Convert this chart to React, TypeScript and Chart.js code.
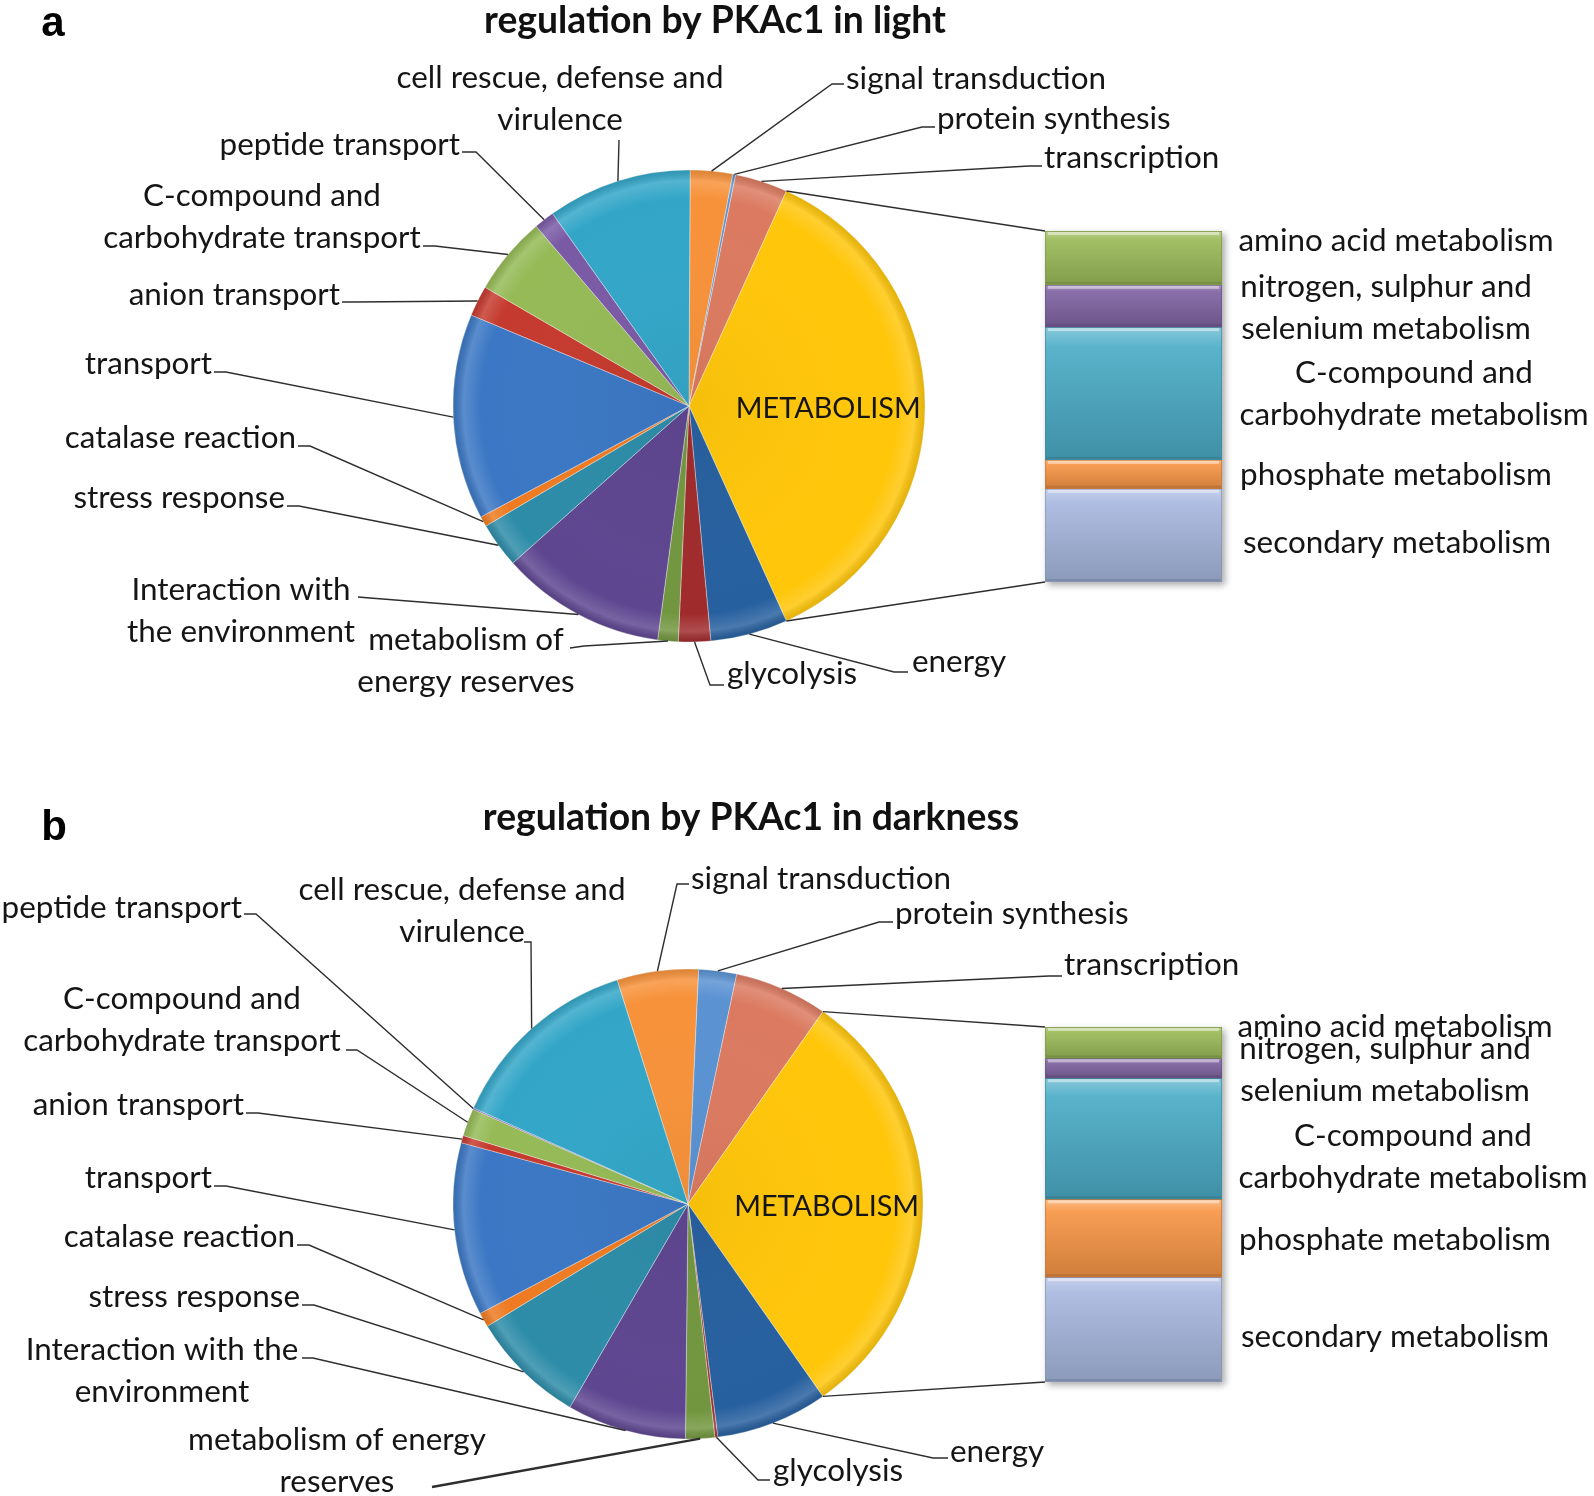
import React, { useEffect, useRef } from "react";
import { Chart, registerables } from "chart.js";

Chart.register(...registerables);

const PAGE_W = 1594;
const PAGE_H = 1496;

// ---------------- data ----------------
const pieCategories = [
  "signal transduction",
  "protein synthesis",
  "transcription",
  "METABOLISM",
  "energy",
  "glycolysis",
  "metabolism of energy reserves",
  "Interaction with the environment",
  "stress response",
  "catalase reaction",
  "transport",
  "anion transport",
  "C-compound and carbohydrate transport",
  "peptide transport",
  "cell rescue, defense and virulence",
];
// share of regulated genes (%), light
const lightPieValues = [2.9, 0.2, 3.6, 36.5, 5.3, 2.2, 1.4, 11.3, 3.1, 0.7, 14.1, 2.1, 5.4, 1.4, 9.9];
// share of regulated genes (%), darkness
const darkPieValues = [5.6, 2.6, 6.4, 30.5, 7.7, 0.2, 2.0, 8.2, 7.9, 1.0, 11.9, 0.5, 1.9, 0.1, 13.4];

const barCategories = [
  "amino acid metabolism",
  "nitrogen, sulphur and selenium metabolism",
  "C-compound and carbohydrate metabolism",
  "phosphate metabolism",
  "secondary metabolism",
];
// breakdown of the METABOLISM slice (%)
const lightBarValues = [5.6, 4.4, 13.8, 3.0, 9.7];
const darkBarValues = [2.7, 1.7, 10.4, 6.7, 9.0];

const panelTitles = ["regulation by PKAc1 in light", "regulation by PKAc1 in darkness"];
const panelLetters = ["a", "b"];

// ---------------- styles ----------------
const pieColors = [
  "#F7923A", "#5A92D2", "#DB7A60", "#FFC60A", "#27609F", "#A02B2C", "#72963F", "#5E4690",
  "#2D8CA8", "#EE7B22", "#3B77C4", "#C53A2E", "#95BA56", "#7A5AA5", "#33A6C8",
];
const barColors = ["#9BBB59", "#8064A2", "#4BACC6", "#F79646", "#A7B7DE"];

const FONT = "Lato, 'Open Sans', sans-serif";
const LINE_GAP = 41.5;
const TEXT_COLOR = "#151515";
const LEADER_COLOR = "#2e2e2e";

type PieLabel = {
  i: number;
  lines: string[];
  x: number;
  y: number;
  align: CanvasTextAlign;
  path: number[][];
  lw?: number;
};
type BarLabel = { lines: string[]; x: number; y: number };

const lightLayout = {
  letter: [53, 24],
  title: [715, 21],
  pie: [689, 406, 236],
  bar: [1045, 231, 1222, 582],
  pieLabels: [
    { i: 0, lines: ["signal transduction"], x: 846, y: 79, align: "left", path: [[844, 84], [832, 84]] },
    { i: 1, lines: ["protein synthesis"], x: 937, y: 119, align: "left", path: [[935, 127], [922, 127]] },
    { i: 2, lines: ["transcription"], x: 1044, y: 158, align: "left", path: [[1042, 166], [1029, 166]] },
    { i: 14, lines: ["cell rescue, defense and", "virulence"], x: 560, y: 78, align: "center", path: [[619, 140]] },
    { i: 13, lines: ["peptide transport"], x: 460, y: 145, align: "right", path: [[462, 152], [476, 152]] },
    { i: 12, lines: ["C-compound and", "carbohydrate transport"], x: 262, y: 196, align: "center", path: [[423, 246], [435, 246]] },
    { i: 11, lines: ["anion transport"], x: 340, y: 295, align: "right", path: [[342, 302], [354, 302]] },
    { i: 10, lines: ["transport"], x: 212, y: 364, align: "right", path: [[214, 372], [226, 372]] },
    { i: 9, lines: ["catalase reaction"], x: 296, y: 438, align: "right", path: [[298, 446], [310, 446]] },
    { i: 8, lines: ["stress response"], x: 285, y: 498, align: "right", path: [[287, 506], [299, 506]] },
    { i: 7, lines: ["Interaction with", "the environment"], x: 241, y: 590, align: "center", path: [[358, 597], [370, 598]] },
    { i: 6, lines: ["metabolism of", "energy reserves"], x: 466, y: 640, align: "center", path: [[570, 648], [584, 646]] },
    { i: 5, lines: ["glycolysis"], x: 727, y: 674, align: "left", path: [[724, 685], [710, 685]] },
    { i: 4, lines: ["energy"], x: 912, y: 662, align: "left", path: [[908, 672], [894, 672]] },
  ] as PieLabel[],
  barLabels: [
    { lines: ["amino acid metabolism"], x: 1396, y: 241 },
    { lines: ["nitrogen, sulphur and", "selenium metabolism"], x: 1386, y: 287 },
    { lines: ["C-compound and", "carbohydrate metabolism"], x: 1414, y: 373 },
    { lines: ["phosphate metabolism"], x: 1396, y: 475 },
    { lines: ["secondary metabolism"], x: 1397, y: 543 },
  ] as BarLabel[],
};

const darkLayout = {
  letter: [54, 828],
  title: [751, 818],
  pie: [688, 1204, 235],
  bar: [1045, 1027, 1222, 1382],
  pieLabels: [
    { i: 0, lines: ["signal transduction"], x: 691, y: 879, align: "left", path: [[689, 884], [677, 884]] },
    { i: 1, lines: ["protein synthesis"], x: 895, y: 914, align: "left", path: [[893, 922], [879, 922]] },
    { i: 2, lines: ["transcription"], x: 1064, y: 965, align: "left", path: [[1062, 976], [1049, 976]] },
    { i: 14, lines: ["cell rescue, defense and", "virulence"], x: 462, y: 890, align: "center", path: [[524, 942], [531, 942]] },
    { i: 13, lines: ["peptide transport"], x: 242, y: 908, align: "right", path: [[244, 914], [256, 914]] },
    { i: 12, lines: ["C-compound and", "carbohydrate transport"], x: 182, y: 999, align: "center", path: [[346, 1050], [357, 1050]] },
    { i: 11, lines: ["anion transport"], x: 244, y: 1105, align: "right", path: [[246, 1113], [258, 1113]] },
    { i: 10, lines: ["transport"], x: 212, y: 1178, align: "right", path: [[214, 1186], [226, 1186]] },
    { i: 9, lines: ["catalase reaction"], x: 295, y: 1237, align: "right", path: [[297, 1245], [309, 1245]] },
    { i: 8, lines: ["stress response"], x: 300, y: 1297, align: "right", path: [[302, 1305], [314, 1305]] },
    { i: 7, lines: ["Interaction with the", "environment"], x: 162, y: 1350, align: "center", path: [[302, 1358], [313, 1358]] },
    { i: 6, lines: ["metabolism of energy", "reserves"], x: 337, y: 1440, align: "center", path: [[432, 1487]], lw: 2.4 },
    { i: 5, lines: ["glycolysis"], x: 773, y: 1471, align: "left", path: [[770, 1480], [758, 1480]] },
    { i: 4, lines: ["energy"], x: 950, y: 1452, align: "left", path: [[948, 1458], [933, 1458]] },
  ] as PieLabel[],
  barLabels: [
    { lines: ["amino acid metabolism"], x: 1395, y: 1027 },
    { lines: ["nitrogen, sulphur and", "selenium metabolism"], x: 1385, y: 1049 },
    { lines: ["C-compound and", "carbohydrate metabolism"], x: 1413, y: 1136 },
    { lines: ["phosphate metabolism"], x: 1395, y: 1240 },
    { lines: ["secondary metabolism"], x: 1395, y: 1337 },
  ] as BarLabel[],
};

// ---------------- helpers ----------------
function shade(hex: string, amt: number): string {
  const n = parseInt(hex.slice(1), 16);
  let r = (n >> 16) & 255, g = (n >> 8) & 255, b = n & 255;
  if (amt >= 0) {
    r = r + (255 - r) * amt; g = g + (255 - g) * amt; b = b + (255 - b) * amt;
  } else {
    r = r * (1 + amt); g = g * (1 + amt); b = b * (1 + amt);
  }
  return `rgb(${Math.round(r)},${Math.round(g)},${Math.round(b)})`;
}

function fitSize(ctx: CanvasRenderingContext2D, text: string, width: number, weight: string): number {
  ctx.save();
  ctx.font = `${weight} 100px ${FONT}`;
  const w = ctx.measureText(text).width;
  ctx.restore();
  return (100 * width) / w;
}

function labelSize(ctx: CanvasRenderingContext2D) {
  return fitSize(ctx, "cell rescue, defense and", 327, "normal");
}

function drawLines(ctx: CanvasRenderingContext2D, lines: string[], x: number, y: number, align: CanvasTextAlign, font: string) {
  ctx.font = font;
  ctx.textAlign = align;
  ctx.textBaseline = "middle";
  ctx.fillStyle = TEXT_COLOR;
  lines.forEach((ln, j) => ctx.fillText(ln, x, y + j * LINE_GAP));
}

function arcGeom(el: any) {
  return el.getProps(["x", "y", "startAngle", "endAngle", "outerRadius"], true);
}

function makePie(canvas: HTMLCanvasElement, values: number[], layout: any, k: number) {
  const [cx, cy, r] = layout.pie;
  const total = values.reduce((a, b) => a + b, 0);
  const before = values.slice(0, 3).reduce((a, b) => a + b, 0);
  // Excel pie-of-bar: the split slice is centred on 3 o'clock
  const rotation = 90 - ((before + values[3] / 2) / total) * 360;

  const decor = {
    id: "pieDecor" + k,
    afterDatasetsDraw(chart: any) {
      const ctx = chart.ctx as CanvasRenderingContext2D;
      const arcs = chart.getDatasetMeta(0).data;
      const g0 = arcGeom(arcs[0]);
      const R = g0.outerRadius;
      ctx.save();
      const g = ctx.createRadialGradient(g0.x, g0.y, 0, g0.x, g0.y, R);
      g.addColorStop(0, "rgba(0,0,0,0.04)");
      g.addColorStop(0.88, "rgba(255,255,255,0)");
      g.addColorStop(0.955, "rgba(255,255,255,0.16)");
      g.addColorStop(1, "rgba(0,0,0,0.10)");
      ctx.beginPath();
      ctx.arc(g0.x, g0.y, R, 0, Math.PI * 2);
      ctx.fillStyle = g;
      ctx.fill();
      ctx.restore();
    },
    afterDraw(chart: any) {
      const ctx = chart.ctx as CanvasRenderingContext2D;
      const arcs = chart.getDatasetMeta(0).data;
      ctx.save();
      // panel letter
      ctx.font = `bold 42px 'Liberation Sans', Arial, sans-serif`;
      ctx.textAlign = "center";
      ctx.textBaseline = "middle";
      ctx.fillStyle = "#000";
      ctx.fillText(panelLetters[k], layout.letter[0], layout.letter[1]);
      // title
      const ts = fitSize(ctx, panelTitles[0], 462, "bold");
      ctx.font = `bold ${ts}px ${FONT}`;
      ctx.fillStyle = "#111";
      ctx.fillText(panelTitles[k], layout.title[0], layout.title[1]);

      const ls = labelSize(ctx);
      const font = `${ls}px ${FONT}`;
      // leader lines + labels
      layout.pieLabels.forEach((lab: PieLabel) => {
        const a = arcGeom(arcs[lab.i]);
        const mid = (a.startAngle + a.endAngle) / 2;
        const rx = a.x + Math.cos(mid) * a.outerRadius;
        const ry = a.y + Math.sin(mid) * a.outerRadius;
        ctx.beginPath();
        ctx.moveTo(lab.path[0][0], lab.path[0][1]);
        for (let j = 1; j < lab.path.length; j++) ctx.lineTo(lab.path[j][0], lab.path[j][1]);
        ctx.lineTo(rx, ry);
        ctx.strokeStyle = LEADER_COLOR;
        ctx.lineWidth = lab.lw || 1.4;
        ctx.stroke();
        drawLines(ctx, lab.lines, lab.x, lab.y, lab.align, font);
      });
      // METABOLISM label inside its slice
      const m = arcGeom(arcs[3]);
      const mm = (m.startAngle + m.endAngle) / 2;
      const ms = fitSize(ctx, "METABOLISM", 185, "normal");
      drawLines(ctx, [pieCategories[3]], m.x + Math.cos(mm) * m.outerRadius * 0.59, m.y + Math.sin(mm) * m.outerRadius * 0.59 + 3, "center", `${ms}px ${FONT}`);
      ctx.restore();
    },
  };

  return new Chart(canvas, {
    type: "pie",
    data: {
      labels: pieCategories,
      datasets: [
        {
          data: values,
          backgroundColor: pieColors,
          borderColor: "rgba(255,255,255,0.35)",
          borderWidth: 1,
        },
      ],
    },
    options: {
      responsive: false,
      animation: false,
      events: [],
      rotation,
      radius: r,
      layout: { padding: { left: cx - r, right: PAGE_W - (cx + r), top: cy - r, bottom: PAGE_H - (cy + r) } },
      plugins: { legend: { display: false }, tooltip: { enabled: false }, title: { display: false } },
    } as any,
    plugins: [decor as any],
  });
}

function makeBar(canvas: HTMLCanvasElement, values: number[], layout: any, k: number, pie: Chart) {
  const [left, top, right, bottom] = layout.bar;
  const total = values.reduce((a, b) => a + b, 0);

  const decor = {
    id: "barDecor" + k,
    beforeDatasetsDraw(chart: any) {
      const ctx = chart.ctx as CanvasRenderingContext2D;
      const a = chart.chartArea;
      ctx.save();
      ctx.shadowColor = "rgba(0,0,0,0.35)";
      ctx.shadowBlur = 7;
      ctx.shadowOffsetX = 3;
      ctx.shadowOffsetY = 3;
      ctx.fillStyle = "#bbb";
      ctx.fillRect(a.left, a.top, a.right - a.left, a.bottom - a.top);
      ctx.restore();
    },
    afterDatasetsDraw(chart: any) {
      const ctx = chart.ctx as CanvasRenderingContext2D;
      ctx.save();
      chart.data.datasets.forEach((_d: any, di: number) => {
        const el = chart.getDatasetMeta(di).data[0];
        const p = el.getProps(["x", "y", "base", "width"], true);
        const t = Math.min(p.y, p.base), b = Math.max(p.y, p.base);
        const l = p.x - p.width / 2;
        ctx.fillStyle = "rgba(255,255,255,0.45)";
        ctx.fillRect(l + 3, t + 1, p.width - 6, 3);
        ctx.fillStyle = "rgba(0,0,0,0.10)";
        ctx.fillRect(l + 1, b - 3, p.width - 2, 2);
      });
      ctx.restore();
    },
    afterDraw(chart: any) {
      const ctx = chart.ctx as CanvasRenderingContext2D;
      ctx.save();
      // connectors from the split slice to the bar
      const m = arcGeom(pie.getDatasetMeta(0).data[3]);
      const ys = chart.scales.y;
      const el0 = chart.getDatasetMeta(0).data[0].getProps(["x", "width"], true);
      const bx = el0.x - el0.width / 2;
      const yTop = ys.getPixelForValue(0);
      const yBot = ys.getPixelForValue(total);
      ctx.strokeStyle = LEADER_COLOR;
      ctx.lineWidth = 1.4;
      ctx.beginPath();
      ctx.moveTo(m.x + Math.cos(m.startAngle) * m.outerRadius, m.y + Math.sin(m.startAngle) * m.outerRadius);
      ctx.lineTo(bx, yTop);
      ctx.moveTo(m.x + Math.cos(m.endAngle) * m.outerRadius, m.y + Math.sin(m.endAngle) * m.outerRadius);
      ctx.lineTo(bx, yBot);
      ctx.stroke();
      // labels
      const font = `${labelSize(ctx)}px ${FONT}`;
      layout.barLabels.forEach((lab: BarLabel) => drawLines(ctx, lab.lines, lab.x, lab.y, "center", font));
      ctx.restore();
    },
  };

  return new Chart(canvas, {
    type: "bar",
    data: {
      labels: ["METABOLISM"],
      datasets: barCategories.map((c, i) => ({
        label: c,
        data: [values[i]],
        backgroundColor: (context: any) => {
          const chart = context.chart;
          const ys = chart.scales && chart.scales.y;
          const base = barColors[i];
          if (!ys) return base;
          const s = values.slice(0, i).reduce((a, b) => a + b, 0);
          const y0 = ys.getPixelForValue(s);
          const y1 = ys.getPixelForValue(s + values[i]);
          if (!isFinite(y0) || !isFinite(y1) || y0 === y1) return base;
          const g = chart.ctx.createLinearGradient(0, y0, 0, y1);
          g.addColorStop(0, shade(base, 0.35));
          g.addColorStop(0.15, shade(base, 0.08));
          g.addColorStop(1, shade(base, -0.16));
          return g;
        },
        borderColor: shade(barColors[i], -0.2),
        borderWidth: 1,
        borderSkipped: false,
        categoryPercentage: 1,
        barPercentage: 1,
      })),
    },
    options: {
      responsive: false,
      animation: false,
      events: [],
      layout: { padding: { left, right: PAGE_W - right, top, bottom: PAGE_H - bottom } },
      scales: {
        x: { display: false, stacked: true },
        y: { display: false, stacked: true, reverse: true, min: 0, max: total },
      },
      plugins: { legend: { display: false }, tooltip: { enabled: false }, title: { display: false } },
    } as any,
    plugins: [decor as any],
  });
}

const panels = [
  { pie: lightPieValues, bar: lightBarValues, layout: lightLayout },
  { pie: darkPieValues, bar: darkBarValues, layout: darkLayout },
];

export default function App() {
  const r0 = useRef<HTMLCanvasElement>(null);
  const r1 = useRef<HTMLCanvasElement>(null);
  const r2 = useRef<HTMLCanvasElement>(null);
  const r3 = useRef<HTMLCanvasElement>(null);

  useEffect(() => {
    const refs = [r0, r1, r2, r3];
    const charts: Chart[] = [];
    panels.forEach((p, k) => {
      const pie = makePie(refs[k * 2].current!, p.pie, p.layout, k);
      const bar = makeBar(refs[k * 2 + 1].current!, p.bar, p.layout, k, pie);
      charts.push(pie, bar);
    });
    return () => charts.forEach((c) => c.destroy());
  }, []);

  const cs: React.CSSProperties = { position: "absolute", left: 0, top: 0 };
  return (
    <div style={{ position: "absolute", left: 0, top: 0, width: PAGE_W, height: PAGE_H, background: "#fff", overflow: "hidden" }}>
      <canvas ref={r0} width={PAGE_W} height={PAGE_H} style={cs} />
      <canvas ref={r1} width={PAGE_W} height={PAGE_H} style={cs} />
      <canvas ref={r2} width={PAGE_W} height={PAGE_H} style={cs} />
      <canvas ref={r3} width={PAGE_W} height={PAGE_H} style={cs} />
    </div>
  );
}
